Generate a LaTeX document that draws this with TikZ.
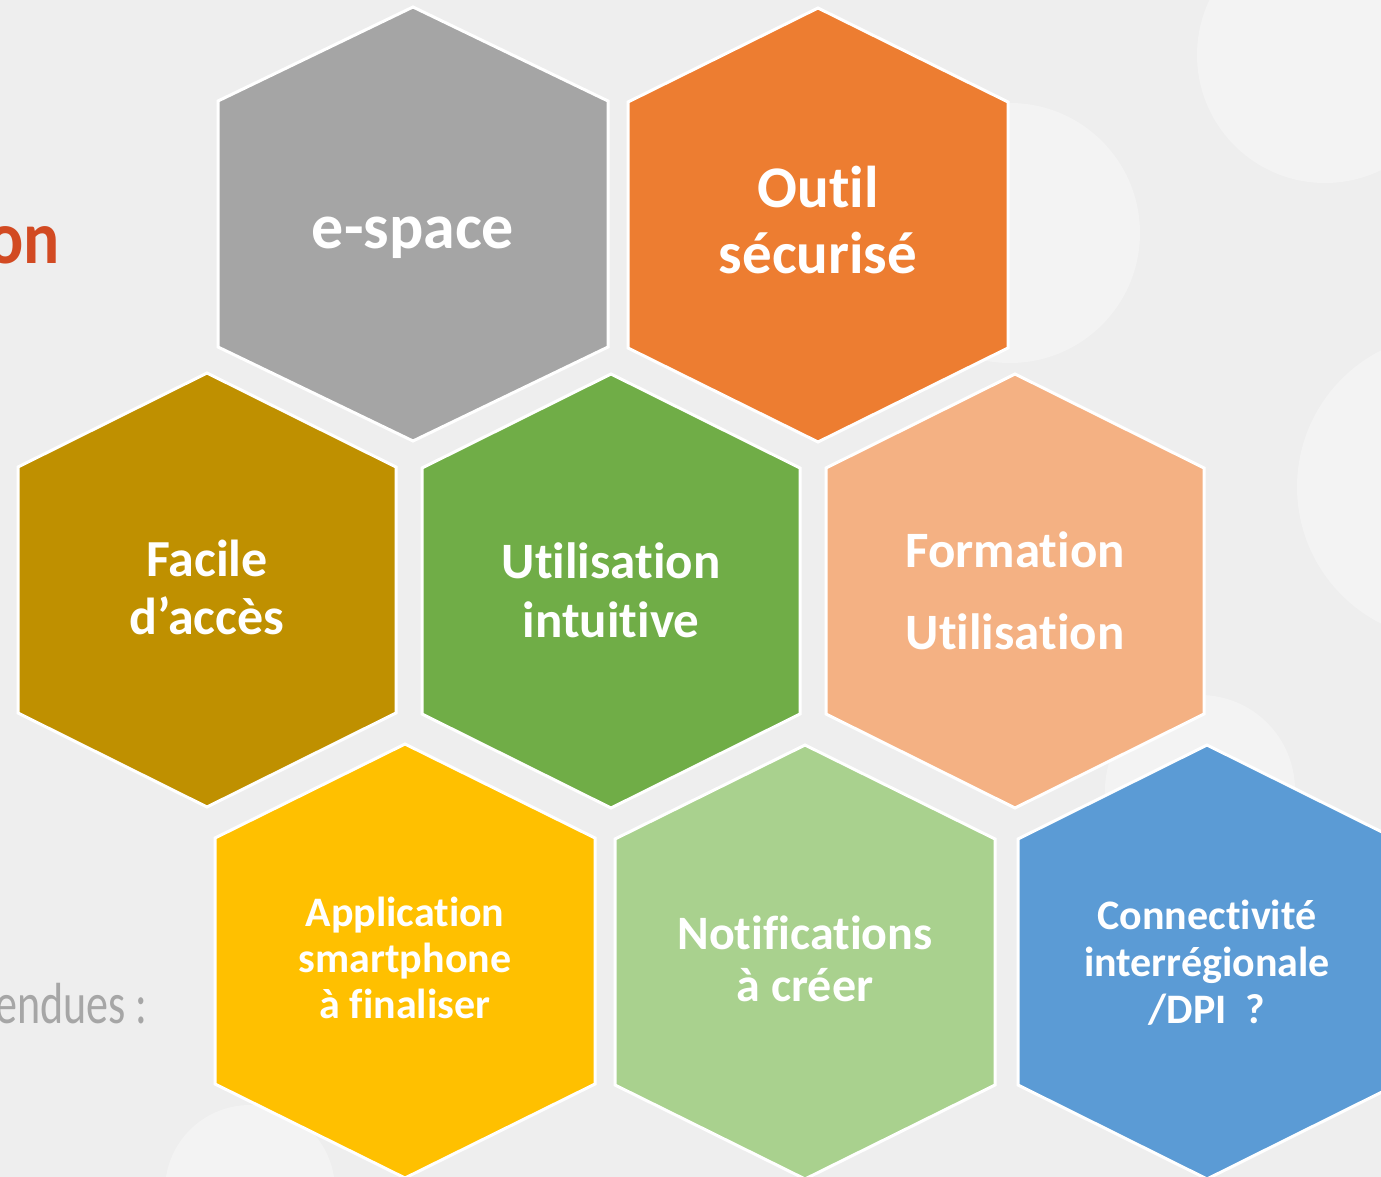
\documentclass[tikz,border=0pt]{standalone}
\usepackage{fontspec}
\setmainfont{Carlito}[Ligatures={NoCommon}]
\usetikzlibrary{positioning}

\definecolor{bgGray}{HTML}{EEEEEE}
\definecolor{bgSoft}{HTML}{F3F3F3}
\definecolor{hexGray}{HTML}{A5A5A5}
\definecolor{hexOrange}{HTML}{ED7D31}
\definecolor{hexGold}{HTML}{BF9000}
\definecolor{hexGreen}{HTML}{70AD47}
\definecolor{hexPeach}{HTML}{F4B183}
\definecolor{hexYellow}{HTML}{FFC000}
\definecolor{hexLight}{HTML}{A9D18E}
\definecolor{hexBlue}{HTML}{5B9BD5}
\definecolor{titleRed}{HTML}{D24A22}
\definecolor{noteGray}{HTML}{A6A6A6}

% hexagon cell: name, centre x, centre y, half width, colour
\newcommand{\hexcell}[5]{%
    \coordinate (#1) at (#2,#3);
    \filldraw[hex cell,fill=#5,shift={(#2,#3)}]
        (0,-217) -- (#4,-123) -- (#4,123) -- (0,217)
        -- (-#4,123) -- (-#4,-123) -- cycle;
}

\begin{document}
\begin{tikzpicture}[x=1pt,y=-1pt,
        hex cell/.style={draw=white,line width=3pt,line join=miter},
        hex label/.style 2 args={text=white,align=center,
            font=\bfseries\fontsize{#1}{#2}\selectfont},
        soft disc/.style={fill=bgSoft,draw=none}]

    \clip (0,0) rectangle (1381,1177);
    \fill[bgGray] (0,0) rectangle (1381,1177);

    % faint discs of the slide background
    \fill[soft disc] (1325,55) circle (128);
    \fill[soft disc] (1010,233) circle (130);
    \fill[soft disc] (1450,487) circle (153);
    \fill[soft disc] (1200,790) circle (95);
    \fill[soft disc] (250,1190) circle (85);

    % first row
    \hexcell{espace}{413}{224}{195}{hexGray}
    \hexcell{outil}{818}{225}{190}{hexOrange}
    % second row
    \hexcell{facile}{207}{590}{189}{hexGold}
    \hexcell{intuitive}{611}{591}{189}{hexGreen}
    \hexcell{formation}{1015}{591}{189}{hexPeach}
    % third row
    \hexcell{appli}{405}{961}{190}{hexYellow}
    \hexcell{notif}{805}{962}{190}{hexLight}
    \hexcell{connect}{1207}{962}{189}{hexBlue}

    \node[hex label={64}{70}] (espace text) at (413,238) {e-space};
    \node[hex label={59}{66}] (outil text) at (818,220) {Outil\\sécurisé};
    \node[hex label={52}{58}] (facile text) at (207,587) {Facile\\d’accès};
    \node[hex label={51}{59}] (intuitive text) at (611,590) {Utilisation\\intuitive};
    \node[hex label={51}{82}] (formation text) at (1015,591) {Formation\\Utilisation};
    \node[hex label={42}{46}] (appli text) at (405,958) {Application\\smartphone\\à finaliser};
    \node[hex label={48}{52}] (notif text) at (805,959) {Notifications\\à créer};
    \node[hex label={42}{47}] (connect text) at (1207,963) {Connectivité\\interrégionale\\/DPI~~?};

    % cut-off slide texts on the left
    \node[anchor=base east,inner sep=0pt,text=titleRed,
        font=\bfseries\fontsize{75}{80}\selectfont] (title end) at (60,263)
        {\scalebox{0.9}[1]{on}};
    \node[anchor=base east,inner sep=0pt,text=noteGray,
        font=\fontsize{58}{64}\selectfont] (note end) at (148,1023)
        {\scalebox{0.76}[1]{endues :}};
\end{tikzpicture}
\end{document}
